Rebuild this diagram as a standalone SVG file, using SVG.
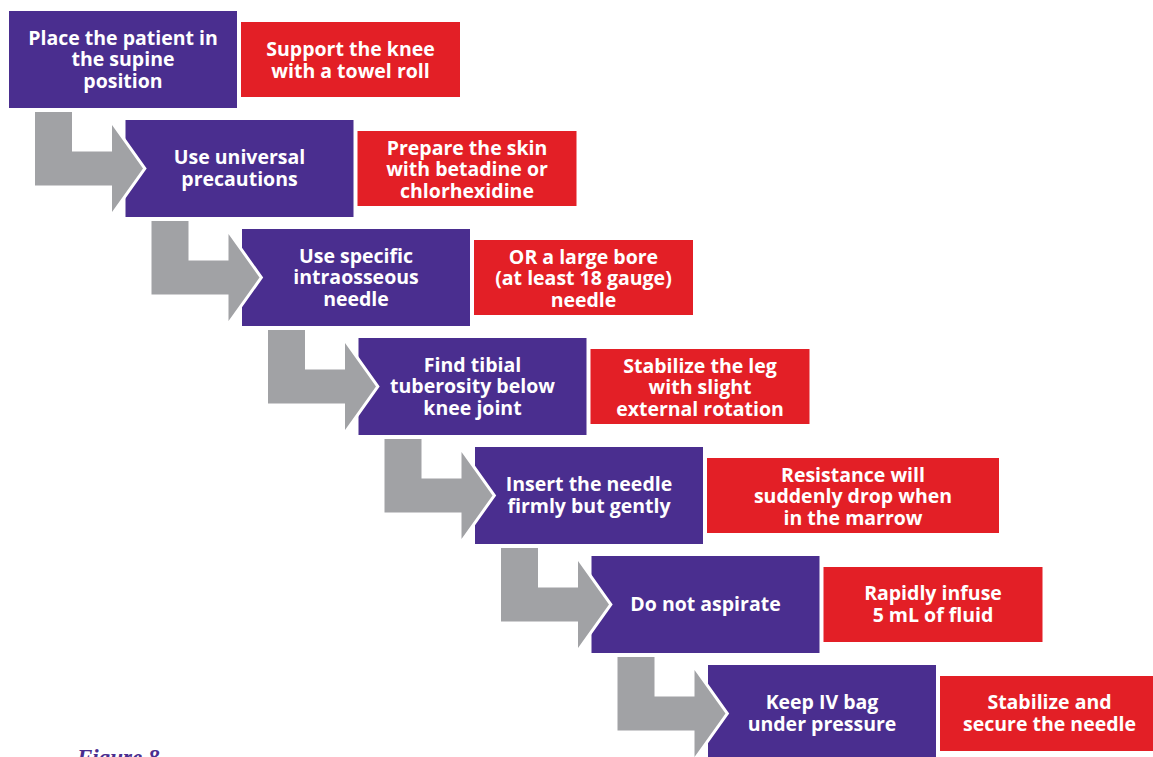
<svg xmlns="http://www.w3.org/2000/svg" xmlns:xlink="http://www.w3.org/1999/xlink" width="1153" height="757" viewBox="0 0 1153 757">
<style>
.p{fill:#4a2e8f}
.r{fill:#e31f26}
.t{font-family:"Open Sans","Liberation Sans",Arial,sans-serif;font-weight:700;font-size:19.5px;fill:#ffffff;text-anchor:middle}
.arr{fill:#a1a2a5;stroke:#ffffff;stroke-width:6;stroke-linejoin:miter;paint-order:stroke}
.fig{font-family:"Liberation Serif",serif;font-weight:700;font-style:italic;font-size:23px;fill:#4a2e8f}
</style>
<defs>
<path id="arr" d="M35,112 H72 V151.5 H112 V125 L143,168.5 L112,212 V185.5 H35 Z"/>
</defs>
<rect width="1153" height="757" fill="#ffffff"/>
<g id="n1"><rect class="p" x="9" y="11" width="228" height="97"/><text class="t"><tspan x="123" y="44.5">Place the patient in</tspan><tspan x="123" y="66">the supine</tspan><tspan x="123" y="87.5">position</tspan></text></g>
<g id="r1"><rect class="r" x="241" y="22" width="219" height="75"/><text class="t"><tspan x="350.5" y="56.2">Support the knee</tspan><tspan x="350.5" y="77.7">with a towel roll</tspan></text></g>
<g id="n2"><rect class="p" x="125.5" y="120" width="228" height="97"/><text class="t"><tspan x="239.5" y="164.2">Use universal</tspan><tspan x="239.5" y="185.7">precautions</tspan></text></g>
<g id="r2"><rect class="r" x="357.5" y="131" width="219" height="75"/><text class="t"><tspan x="467" y="154.5">Prepare the skin</tspan><tspan x="467" y="176">with betadine or</tspan><tspan x="467" y="197.5">chlorhexidine</tspan></text></g>
<g id="n3"><rect class="p" x="242" y="229" width="228" height="97"/><text class="t"><tspan x="356" y="262.5">Use specific</tspan><tspan x="356" y="284">intraosseous</tspan><tspan x="356" y="305.5">needle</tspan></text></g>
<g id="r3"><rect class="r" x="474" y="240" width="219" height="75"/><text class="t"><tspan x="583.5" y="263.5">OR a large bore</tspan><tspan x="583.5" y="285">(at least 18 gauge)</tspan><tspan x="583.5" y="306.5">needle</tspan></text></g>
<g id="n4"><rect class="p" x="358.5" y="338" width="228" height="97"/><text class="t"><tspan x="472.5" y="371.5">Find tibial</tspan><tspan x="472.5" y="393">tuberosity below</tspan><tspan x="472.5" y="414.5">knee joint</tspan></text></g>
<g id="r4"><rect class="r" x="590.5" y="349" width="219" height="75"/><text class="t"><tspan x="700" y="372.5">Stabilize the leg</tspan><tspan x="700" y="394">with slight</tspan><tspan x="700" y="415.5">external rotation</tspan></text></g>
<g id="n5"><rect class="p" x="475" y="447" width="228" height="97"/><text class="t"><tspan x="589" y="491.2">Insert the needle</tspan><tspan x="589" y="512.7">firmly but gently</tspan></text></g>
<g id="r5"><rect class="r" x="707" y="458" width="292" height="75"/><text class="t"><tspan x="853" y="481.5">Resistance will</tspan><tspan x="853" y="503">suddenly drop when</tspan><tspan x="853" y="524.5">in the marrow</tspan></text></g>
<g id="n6"><rect class="p" x="591.5" y="556" width="228" height="97"/><text class="t"><tspan x="705.5" y="611">Do not aspirate</tspan></text></g>
<g id="r6"><rect class="r" x="823.5" y="567" width="219" height="75"/><text class="t"><tspan x="933" y="600.2">Rapidly infuse</tspan><tspan x="933" y="621.7">5 mL of fluid</tspan></text></g>
<g id="n7"><rect class="p" x="708" y="665" width="228" height="97"/><text class="t"><tspan x="822" y="709.2">Keep IV bag</tspan><tspan x="822" y="730.7">under pressure</tspan></text></g>
<g id="r7"><rect class="r" x="940" y="676" width="219" height="75"/><text class="t"><tspan x="1049.5" y="709.2">Stabilize and</tspan><tspan x="1049.5" y="730.7">secure the needle</tspan></text></g>
<g id="connectors">
<use xlink:href="#arr" class="arr"/>
<use xlink:href="#arr" class="arr" x="116.5" y="109"/>
<use xlink:href="#arr" class="arr" x="233" y="218"/>
<use xlink:href="#arr" class="arr" x="349.5" y="327"/>
<use xlink:href="#arr" class="arr" x="466" y="436"/>
<use xlink:href="#arr" class="arr" x="582.5" y="545"/>
</g>
<text class="fig" x="77" y="765">Figure 8</text>
</svg>
